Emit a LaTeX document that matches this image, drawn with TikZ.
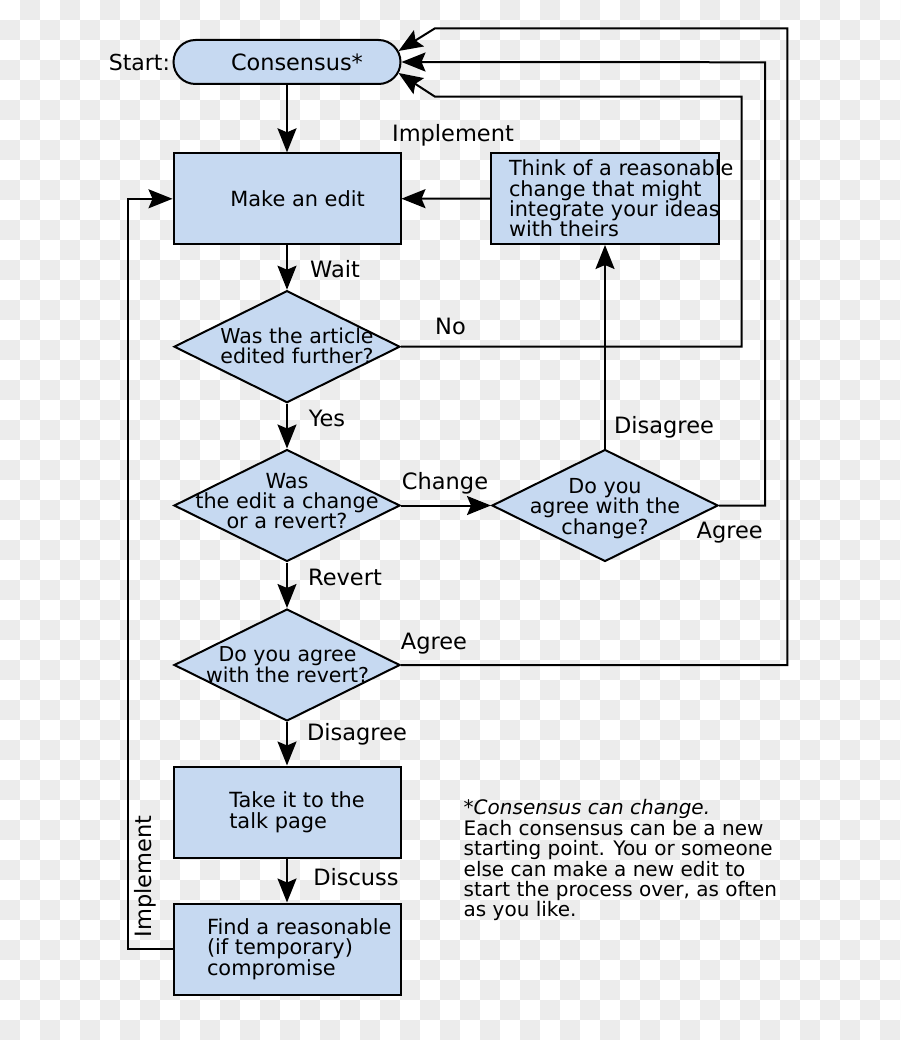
\documentclass[tikz,border=0pt]{standalone}
\usepackage{fontspec}
\setmainfont{DejaVu Sans}
\usetikzlibrary{arrows.meta,shapes.geometric,shapes.misc}
\definecolor{boxfill}{RGB}{198,217,241}
\definecolor{checker}{RGB}{236,236,236}
\begin{document}
\begin{tikzpicture}[x=1pt,y=-1pt,
  line width=2pt,
  boxnode/.style={draw, fill=boxfill, rectangle, minimum width=227pt, minimum height=91pt, inner sep=0pt},
  decision/.style={draw, fill=boxfill, diamond, minimum width=226pt, minimum height=112pt, inner sep=0pt},
  term/.style={draw, fill=boxfill, rounded rectangle, minimum width=227pt, minimum height=44pt, inner sep=0pt},
  txt/.style={inner sep=0pt, align=left, font=\fontsize{20.8}{20.4}\selectfont},
  ctxt/.style={inner sep=0pt, align=center, font=\fontsize{20.8}{20}\selectfont},
  lbl/.style={inner sep=0pt, font=\fontsize{22.5}{24}\selectfont},
  flow/.style={-{Stealth[length=24pt,width=19pt,inset=4pt]}},
]
\useasboundingbox (0,0) rectangle (900,1040);
\fill[white] (0,0) rectangle (900,1040);
\begin{scope}
\clip (0,0) rectangle (900,1040);
\foreach \j in {0,...,51}{
  \pgfmathsetmacro\off{20*(1-mod(\j,2))}
  \foreach \k in {0,...,22}{
    \fill[checker] (\off+40*\k, 20*\j) rectangle ++(20,20);
  }
}
\end{scope}

% nodes
\node[term] (cons) at (287,62) {};
\node[boxnode] (make) at (287,198.8) {};
\node[boxnode, minimum width=228pt] (think) at (605,198.5) {};
\node[decision] (d1) at (287,346.7) {};
\node[decision] (d2) at (287,505.5) {};
\node[decision] (d3) at (605,505.5) {};
\node[decision] (d4) at (287,665) {};
\node[boxnode] (take) at (287,812) {};
\node[boxnode] (find) at (287,949) {};

% texts in nodes (base anchor = baseline of the last line)
\node[lbl, anchor=base east, font=\fontsize{22}{24}\selectfont] (startlbl) at (171,70.7) {Start:};
\node[lbl, anchor=base west, font=\fontsize{22.4}{24}\selectfont] (constxt) at (230,70.7) {Consensus*};
\node[txt, anchor=base west, font=\fontsize{20.9}{20}\selectfont] (maketxt) at (229.3,206.7) {Make an edit};
\node[txt, anchor=base west, font=\fontsize{20.8}{20.3}\selectfont] (thinktxt) at (508,236.7) {Think of a reasonable\\change that might\\integrate your ideas\\with theirs};
\node[ctxt, anchor=base, font=\fontsize{20.5}{20}\selectfont] (d1txt) at (297,363.3) {Was the article\\edited further?};
\node[ctxt, anchor=base] (d2txt) at (287,528) {Was\\the edit a change\\or a revert?};
\node[ctxt, anchor=base, font=\fontsize{20.7}{20.5}\selectfont] (d3txt) at (605,534) {Do you\\agree with the\\change?};
\node[ctxt, anchor=base, font=\fontsize{20.5}{19.7}\selectfont] (d4txt) at (287.5,682.3) {Do you agree\\with the revert?};
\node[txt, anchor=base west, font=\fontsize{20.9}{20.6}\selectfont] (taketxt) at (228.3,828.3) {Take it to the\\talk page};
\node[txt, anchor=base west, font=\fontsize{20.9}{20.4}\selectfont] (findtxt) at (206,975) {Find a reasonable\\(if temporary)\\compromise};
\node[txt, anchor=base west, font=\fontsize{20}{20.35}\selectfont] (note) at (462.7,916.7) {\textit{*Consensus can change.}\\Each consensus can be a new\\starting point. You or someone\\else can make a new edit to\\start the process over, as often\\as you like.};

% connectors
\draw[flow] (cons) -- (make);
\draw[flow] (make) -- (d1);
\draw[flow] (d1) -- (d2);
\draw[flow] (d2) -- (d4);
\draw[flow] (d4) -- (take);
\draw[flow] (take) -- (find);
\draw[flow] (d2) -- (d3);
\draw[flow] (d3) -- (think);
\draw[flow] (think) -- (make);
\draw[flow] (find.west) -- (128.3,949) |- (make.west);
\draw[flow] (d1.east) -| (741.7,96.7) -- (435,96.7) -- ([shift={(-3,11)}]cons.east);
\draw[flow] (d3.east) -| (765,62.3) -- (cons.east);
\draw[flow] (d4.east) -| (787.3,28.3) -- (435,28.3) -- ([shift={(-3,-11)}]cons.east);

% connector labels
\node[lbl, anchor=base] (limpl1) at (453,142) {Implement};
\node[lbl, anchor=base] (lwait) at (335,278) {Wait};
\node[lbl, anchor=base] (lno) at (450.5,334.3) {No};
\node[lbl, anchor=base] (lyes) at (327,426) {Yes};
\node[lbl, anchor=base] (lchange) at (445,489) {Change};
\node[lbl, anchor=base] (ldis1) at (664,433) {Disagree};
\node[lbl, anchor=base] (lagree1) at (729.7,538) {Agree};
\node[lbl, anchor=base] (lrevert) at (345,585) {Revert};
\node[lbl, anchor=base] (lagree2) at (434,649) {Agree};
\node[lbl, anchor=base] (ldis2) at (357,740) {Disagree};
\node[lbl, anchor=base west] (ldiscuss) at (312.3,885.7) {Discuss};
\node[lbl, anchor=base, rotate=90] (limpl2) at (151.7,876.3) {Implement};
\end{tikzpicture}
\end{document}
